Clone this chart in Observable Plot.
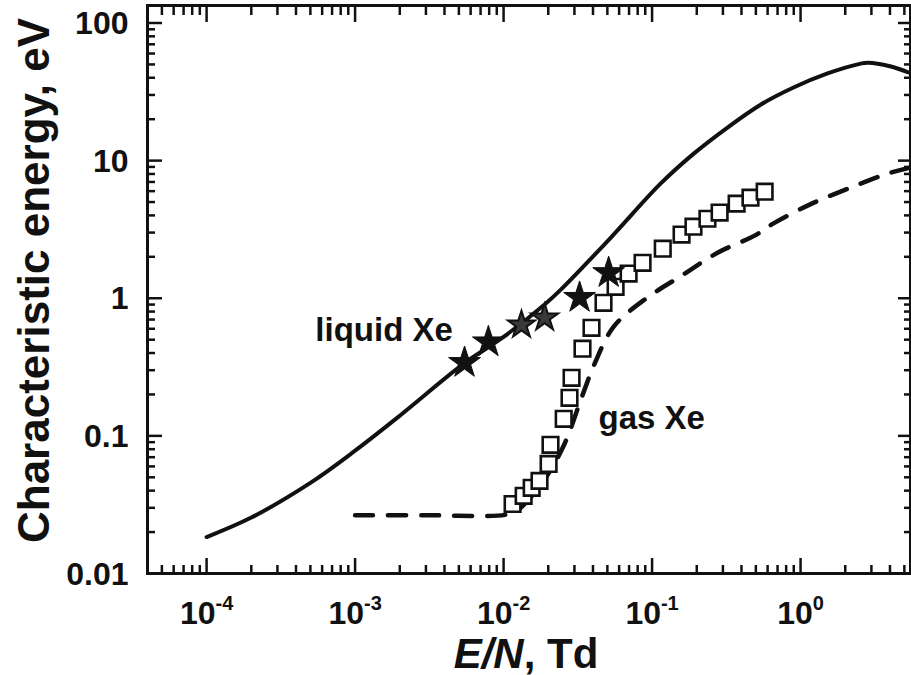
<!DOCTYPE html>
<html>
<head>
<meta charset="utf-8">
<script src="https://cdn.jsdelivr.net/npm/d3@7"></script>
<script src="https://cdn.jsdelivr.net/npm/@observablehq/plot@0.6"></script>
<style>
  html, body { margin: 0; padding: 0; background: #fff; }
  #chart svg { display: block; }
</style>
</head>
<body>
<div id="chart"></div>
<script>
// ---- Data ----
// Liquid Xe theory (solid curve)
const liquidX = [1e-4, 2e-4, 5e-4, 1e-3, 2e-3, 5.5e-3, 0.01, 0.0189, 0.0242, 0.0526, 0.114, 0.19, 0.322, 0.538, 0.897, 1.52, 2.54, 2.85, 4.0, 5.4];
const liquidY = [0.0184, 0.0255, 0.0455, 0.078, 0.14, 0.34, 0.524, 0.90, 1.15, 2.75, 6.8, 11.2, 17.4, 25.5, 34, 43, 50.7, 51.5, 48.5, 43.5];

// Gas Xe theory (dashed curve)
const gasTheoryX = [1e-3, 3e-3, 0.0105, 0.0125, 0.016, 0.02, 0.0258, 0.0335, 0.041, 0.055, 0.0904, 0.158, 0.276, 0.49, 0.658, 1.19, 2.17, 3.85, 5.5];
const gasTheoryY = [0.0265, 0.0265, 0.0268, 0.029, 0.038, 0.053, 0.088, 0.189, 0.334, 0.62, 0.99, 1.46, 2.14, 2.85, 3.5, 4.87, 6.36, 8.04, 8.9];

// Gas Xe experiment (open squares)
const gasExpX = [0.0115, 0.01365, 0.01546, 0.01746, 0.0201, 0.0207, 0.0254, 0.0278, 0.0287, 0.034, 0.0391, 0.0471, 0.0568, 0.0695, 0.0863, 0.118, 0.158, 0.19, 0.236, 0.285, 0.371, 0.46, 0.573];
const gasExpY = [0.032, 0.0367, 0.0419, 0.0471, 0.0625, 0.0861, 0.133, 0.189, 0.264, 0.43, 0.61, 0.927, 1.21, 1.51, 1.81, 2.29, 2.90, 3.31, 3.78, 4.19, 4.87, 5.38, 5.95];

// Liquid Xe experiment (stars)
const starX = [5.46e-3, 7.9e-3, 0.0132, 0.0189, 0.0325, 0.051];
const starY = [0.34, 0.48, 0.64, 0.72, 1.01, 1.53];
const starSet = ["A", "A", "B", "B", "A", "A"];

// Axis ticks and labels
const xTickValues = [1e-4, 1e-3, 1e-2, 1e-1, 1];
const xTickExponents = ["-4", "-3", "-2", "-1", "0"];
const yTickValues = [0.01, 0.1, 1, 10, 100];
const yTickLabels = ["0.01", "0.1", "1", "10", "100"];

const xLabel = "E/N, Td";
const yLabel = "Characteristic energy, eV";
const annotations = [
  {text: "liquid Xe", x: 5.4e-4, y: 0.49},
  {text: "gas Xe", x: 0.0436, y: 0.1125}
];

// ---- Build ----
const liquid = liquidX.map((x, i) => ({x, y: liquidY[i]}));
const gasTheory = gasTheoryX.map((x, i) => ({x, y: gasTheoryY[i]}));
const gasExp = gasExpX.map((x, i) => ({x, y: gasExpY[i]}));
const stars = starX.map((x, i) => ({x, y: starY[i], set: starSet[i]}));

const xDomain = [4e-5, 5.5];
const yDomain = [0.01, 134];

function minorTicks(domain, lo, hi) {
  const out = [];
  for (let e = lo; e <= hi; e++) {
    for (let m = 2; m <= 9; m++) {
      const v = m * Math.pow(10, e);
      if (v > domain[0] && v < domain[1]) out.push(v);
    }
  }
  return out;
}
const xMinor = minorTicks(xDomain, -5, 0);
const yMinor = minorTicks(yDomain, -2, 2);

const W = 911, H = 675;
const mTop = 5, mBottom = 102, mLeft = 147, mRight = 1;
const plotH = H - mTop - mBottom;
const plotW = W - mLeft - mRight;
const MAJ = 15, MIN = 8;
const font = "'Liberation Sans', Arial, Helvetica, sans-serif";

const tickStyle = {stroke: "#111", strokeWidth: 2.5};
const SUP = "^"; // marker for exponent in x tick labels (replaced by a tspan)

const chart = Plot.plot({
  width: W,
  height: H,
  marginTop: mTop,
  marginBottom: mBottom,
  marginLeft: mLeft,
  marginRight: mRight,
  style: {background: "#fff", color: "#111", fontFamily: font, overflow: "visible"},
  x: {type: "log", domain: xDomain, axis: null},
  y: {type: "log", domain: yDomain, axis: null},
  marks: [
    // ticks (inward) on all four sides
    Plot.tickX(xTickValues, {x: d => d, insetTop: plotH - MAJ, ...tickStyle}),
    Plot.tickX(xMinor, {x: d => d, insetTop: plotH - MIN, ...tickStyle}),
    Plot.tickX(xTickValues, {x: d => d, insetBottom: plotH - MAJ - 2, ...tickStyle}),
    Plot.tickX(xMinor, {x: d => d, insetBottom: plotH - MIN - 2, ...tickStyle}),
    Plot.tickY(yTickValues, {y: d => d, insetRight: plotW - MAJ, ...tickStyle}),
    Plot.tickY(yMinor, {y: d => d, insetRight: plotW - MIN, ...tickStyle}),
    Plot.tickY(yTickValues, {y: d => d, insetLeft: plotW - MAJ + 3, ...tickStyle}),
    Plot.tickY(yMinor, {y: d => d, insetLeft: plotW - MIN + 2, ...tickStyle}),
    Plot.frame({stroke: "#111", strokeWidth: 3}),

    // curves
    Plot.line(liquid, {x: "x", y: "y", stroke: "#111", strokeWidth: 4, curve: "catmull-rom"}),
    Plot.line(gasTheory, {x: "x", y: "y", stroke: "#111", strokeWidth: 4.5, strokeDasharray: "18,15", curve: "catmull-rom"}),

    // data points
    Plot.dot(gasExp, {x: "x", y: "y", symbol: "square", r: 8.8, fill: "#fff", stroke: "#111", strokeWidth: 2.6}),
    Plot.dot(stars.filter(d => d.set === "A"), {x: "x", y: "y", symbol: "star", r: 10, fill: "#111", stroke: "#111", strokeWidth: 1}),
    Plot.dot(stars.filter(d => d.set === "B"), {x: "x", y: "y", symbol: "star", r: 8.5, fill: "#3a3a3a", stroke: "#111", strokeWidth: 2}),

    // annotations
    Plot.text(annotations, {x: "x", y: "y", text: "text", textAnchor: "start", lineAnchor: "bottom", fontSize: 33, fontWeight: "bold", fill: "#111"}),

    // tick labels
    Plot.text(yTickValues, {y: d => d, text: (d, i) => yTickLabels[i], frameAnchor: "left", textAnchor: "end", dx: -19, dy: 1, fontSize: 32, fontWeight: "bold", fill: "#111"}),
    Plot.text(xTickValues, {x: d => d, text: (d, i) => "10" + SUP + xTickExponents[i], frameAnchor: "bottom", textAnchor: "middle", lineAnchor: "bottom", dy: 50, fontSize: 32, fontWeight: "bold", fill: "#111"}),

    // axis labels
    Plot.text([yLabel], {text: d => d, frameAnchor: "left", textAnchor: "middle", rotate: -90, lineAnchor: "bottom", dx: -99, dy: -9, fontSize: 44, fontWeight: "bold", fill: "#111"}),
    Plot.text([xLabel], {text: d => d, frameAnchor: "bottom", textAnchor: "middle", lineAnchor: "bottom", dy: 94, dx: -3, fontSize: 42, fontWeight: "bold", fill: "#111"})
  ]
});

// Superscript exponents on the x tick labels; italic E and N in the x label
d3.select(chart).selectAll("text").each(function() {
  const t = d3.select(this);
  const s = this.textContent;
  if (s.includes(SUP)) {
    const [base, exp] = s.split(SUP);
    t.text(base);
    t.append("tspan").attr("font-size", 20).attr("dy", -14).text(exp);
  } else if (s === xLabel) {
    t.text("");
    t.append("tspan").attr("font-style", "italic").text("E/N");
    t.append("tspan").text(", Td");
  }
});

document.getElementById("chart").appendChild(chart);
</script>
</body>
</html>
